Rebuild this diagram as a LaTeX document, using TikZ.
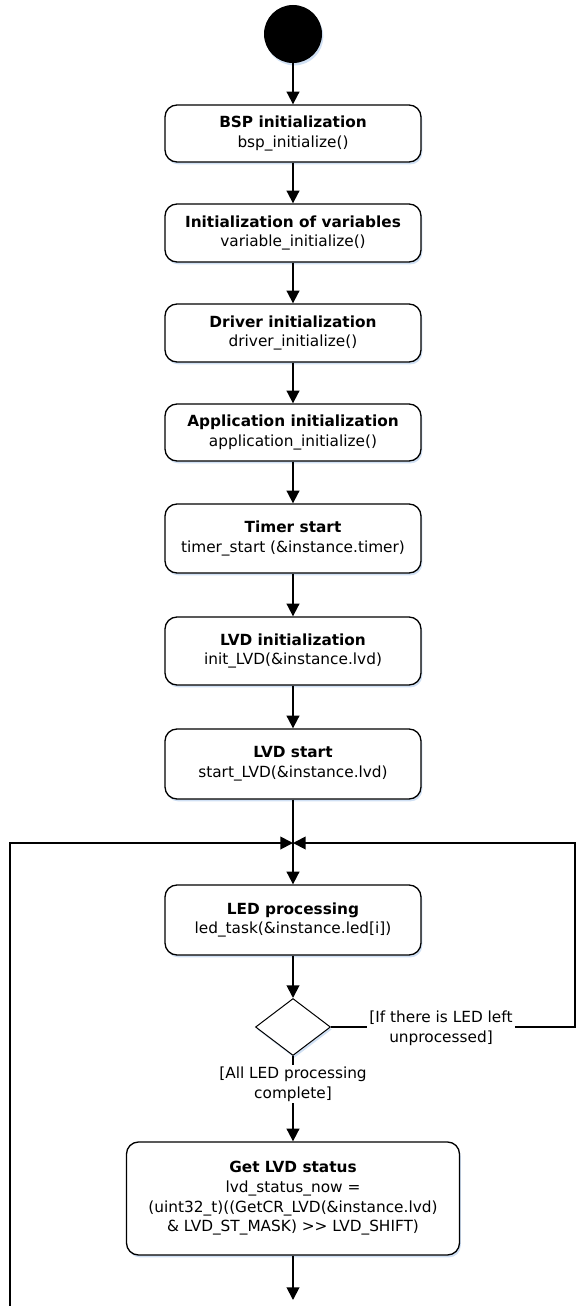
\documentclass[tikz,border=0pt]{standalone}
\usepackage{fontspec}
\setmainfont{DejaVu Sans}
\usetikzlibrary{arrows.meta,shapes.geometric,shadows}
\definecolor{shadowblue}{RGB}{208,224,244}
\newcommand\diagfont{\fontsize{11.5}{14.7}\selectfont}
\tikzset{
  conn/.style={line width=1.4pt},
  arr/.style={conn,-{Triangle[width=9.5pt,length=9.5pt]}},
  softshadow/.style={drop shadow={shadow xshift=1pt,shadow yshift=-1.8pt,fill=shadowblue,opacity=1}},
  actbox/.style={draw, line width=1pt, rounded corners=9pt, fill=white, minimum width=192pt,
    align=center, font=\diagfont, inner sep=2pt, softshadow},
  lbl/.style={fill=white, align=center, font=\diagfont, inner sep=1.5pt}
}
\begin{document}
\begin{tikzpicture}[x=0.75pt,y=-0.75pt]
\useasboundingbox (0,0) rectangle (577,1306);
\node[circle, fill=black, minimum size=43.5pt, inner sep=0pt, softshadow] (start) at (293,34) {};
\node[actbox, minimum height=42.75pt] (bsp) at (293,133.5) {\textbf{BSP initialization}\\bsp\_initialize()};
\node[actbox, minimum height=43.5pt] (var) at (293,233) {\textbf{Initialization of variables}\\variable\_initialize()};
\node[actbox, minimum height=43.5pt] (drv) at (293,333) {\textbf{Driver initialization}\\driver\_initialize()};
\node[actbox, minimum height=42.75pt] (app) at (293,432.5) {\textbf{Application initialization}\\application\_initialize()};
\node[actbox, minimum height=51.75pt] (tmr) at (293,538.5) {\textbf{Timer start}\\timer\_start (\&instance.timer)};
\node[actbox, minimum height=51pt] (lvdi) at (293,651) {\textbf{LVD initialization}\\init\_LVD(\&instance.lvd)};
\node[actbox, minimum height=52.5pt] (lvds) at (293,764) {\textbf{LVD start}\\start\_LVD(\&instance.lvd)};
\coordinate (merge) at (293,843);
\node[actbox, minimum height=52.5pt] (led) at (293,920) {\textbf{LED processing}\\led\_task(\&instance.led[i])};
\node[diamond, draw, line width=0.75pt, fill=white, minimum width=56.25pt, minimum height=42.75pt, inner sep=0pt, softshadow] (dec) at (293,1027) {};
\node[lbl] (lblR) at (441,1028) {[If there is LED left\\unprocessed]};
\node[lbl] (lblA) at (293,1084) {[All LED processing\\complete]};
\node[actbox, minimum width=249.75pt, minimum height=84.75pt] (get) at (293,1198.5)
  {\textbf{Get LVD status}\\lvd\_status\_now =\\(uint32\_t)((GetCR\_LVD(\&instance.lvd)\\\& LVD\_ST\_MASK) >{}> LVD\_SHIFT)};
\coordinate (rbot) at (575,1027);
\coordinate (rtop) at (575,843);
\coordinate (lbot) at (10,1306);
\coordinate (ltop) at (10,843);
\coordinate (endpt) at (293,1300);

\draw[arr] (start) -- (bsp);
\draw[arr] (bsp) -- (var);
\draw[arr] (var) -- (drv);
\draw[arr] (drv) -- (app);
\draw[arr] (app) -- (tmr);
\draw[arr] (tmr) -- (lvdi);
\draw[arr] (lvdi) -- (lvds);
\draw[conn] (lvds) -- (merge);
\draw[arr] (merge) -- (led);
\draw[arr] (led) -- (dec);
\draw[conn] (dec.east) -- (lblR.west |- dec.east);
\draw[arr] (lblR.east |- rbot) -- (rbot) -- (rtop) -- (merge);
\draw[conn] (dec.south) -- (lblA.north);
\draw[arr] (lblA.south) -- (get.north);
\draw[arr] (lbot) -- (ltop) -- (merge);
\draw[arr] (get.south) -- (endpt);
\end{tikzpicture}
\end{document}
